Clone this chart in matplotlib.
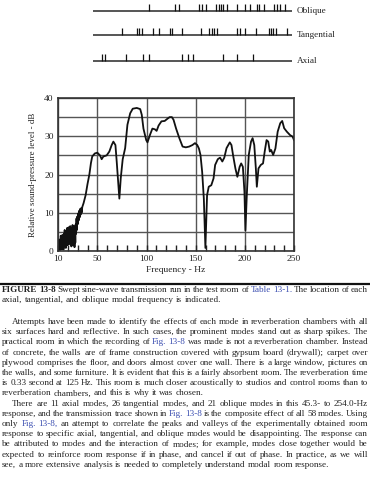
import matplotlib
matplotlib.use('Agg')
import matplotlib.pyplot as plt
from matplotlib.lines import Line2D
from matplotlib.ticker import MultipleLocator

# ---- data ----
freq_hz = [10, 10.4, 10.8, 11.2, 11.6, 12, 12.4, 12.8, 13.2, 13.6, 14, 14.4, 14.8, 15.2,
           15.6, 16, 16.4, 16.8, 17.2, 17.6, 18, 18.4, 18.8, 19.2, 19.6, 20, 20.4, 20.8,
           21.2, 21.6, 22, 22.4, 22.8, 23.2, 23.6, 24, 24.4, 24.8, 25.2, 25.6, 26, 26.4,
           26.8, 27.2, 27.6, 28, 28.4, 28.8, 29.2, 29.6, 30, 30.5, 31, 31.5, 32, 32.5,
           33, 33.5, 34, 34.7, 36, 38.1, 40, 41.9,
           43.5, 44.8, 47.4, 50, 52.7, 54.4, 56.1, 59.5, 62.2, 64.6, 66.3, 68.4, 69.7,
           71.4, 72.4, 73.8, 75.8, 78.3, 80.6, 83.4, 86, 90.1, 93.6, 95.2, 96.9, 99.7,
           101, 103.6, 106, 108.6, 110.3, 112.3, 115.2, 118.5, 120.9, 123.5, 125.8,
           127.5, 130.1, 133.4, 136.7, 140, 143.4, 146.7, 149.3, 151.6, 153.3, 154.9,
           156.6, 158.3, 159.9, 161.6, 163.3, 165.9, 168.2, 169.8, 172.5, 174.8, 177.1,
           179.1, 181.4, 184.7, 186.4, 188, 190.4, 192.4, 194.7, 196.3, 198, 199.6,
           200.6, 202, 204, 206.3, 207.9, 209.6, 211.2, 212.2, 213.9, 216.2, 218.5,
           220.2, 222.1, 223.8, 225.4, 226.8, 228.8, 231.1, 233.4, 236, 238, 240,
           242.7, 246, 248.6, 250]
level_db = [0.5, 2.5, 0.2, 3, 0.6, 2.2, 0.3, 4, 1, 3.5, 0.5, 4.2, 1.5, 3.8,
            0.4, 4.5, 1.8, 5.5, 1.2, 4.8, 0.8, 5, 2.2, 6, 1.5, 5.5, 2.5, 6.2,
            1.8, 5.8, 2, 6.5, 3, 5.2, 1.2, 6, 2.5, 6.8, 1.5, 5.5, 2, 6.5,
            1, 5.8, 2.2, 7, 4.5, 8.5, 5.5, 9, 7, 9.8, 8, 10.5, 8.8, 11,
            9.5, 11.2, 10, 11.5, 12.5, 14.6, 17.5, 20,
            23, 24.7, 25.5, 25.7, 25, 24, 24.7, 25, 26, 27.7, 28.6, 27.7, 23.4,
            17.2, 13.7, 19, 24, 26.9, 33, 36, 37.2, 37.4, 37.1, 35.6, 32, 29,
            28.4, 30.4, 32, 31.8, 31.4, 32.8, 33.9, 34, 34.5, 35, 35,
            34.3, 32, 29.5, 27.3, 27.1, 27.3, 27.7, 28.2, 27.7, 26.8, 25.1,
            20.7, 13.7, 0.8, 14.6, 16.8, 17.2, 19, 22.5, 24, 24.4, 23.4,
            24.4, 26.9, 28.4, 27.7, 25.1, 21.6, 19.4, 22, 22.9, 22, 15.5,
            5.4, 14.6, 25.1, 28.6, 29.5, 27.7, 21.6, 16.8, 21.6, 22.5, 22.9,
            26, 29, 28.6, 26, 26.4, 25.1, 26.8, 31.2, 33.4, 34, 32.1,
            31.2, 30.3, 29.9, 29]

axial_hz = [45.3, 48.7, 72.1, 90.9, 98.3, 135.6, 141.5, 147.4, 181.0, 197.7, 215.4]
tangential_hz = [68.1, 84.1, 87.1, 90.1, 103.1, 109.1, 121.7, 124.3, 135.3, 156.4,
                 166.1, 168.8, 171.4, 174.5, 197.3, 200.7, 206.7, 219.3, 233.2,
                 235.5, 238.0, 241.1, 253.8]
oblique_hz = [98.3, 127.4, 131.9, 154.4, 158.4, 162.9, 173.1, 176.5, 179.3, 182.1,
              186.1, 196.8, 206.9, 212.0, 219.9, 222.7, 227.8, 239.1, 242.5, 246.4,
              252.1]

x_ticks = [10, 50, 100, 150, 200, 250]
y_ticks = [0, 10, 20, 30, 40]

caption = [
    "#FIGURE #13-8 Swept sine-wave transmission run in the test room of @Table @13-1. The location of each",
    "axial, tangential, and oblique modal frequency is indicated.",
]
para1 = [
    "Attempts have been made to identify the effects of each mode in reverberation chambers with all",
    "six surfaces hard and reflective. In such cases, the prominent modes stand out as sharp spikes. The",
    "practical room in which the recording of @Fig. @13-8 was made is not a reverberation chamber. Instead",
    "of concrete, the walls are of frame construction covered with gypsum board (drywall); carpet over",
    "plywood comprises the floor, and doors almost cover one wall. There is a large window, pictures on",
    "the walls, and some furniture. It is evident that this is a fairly absorbent room. The reverberation time",
    "is 0.33 second at 125 Hz. This room is much closer acoustically to studios and control rooms than to",
    "reverberation chambers, and this is why it was chosen.",
]
para2 = [
    "There are 11 axial modes, 26 tangential modes, and 21 oblique modes in this 45.3- to 254.0-Hz",
    "response, and the transmission trace shown in @Fig. @13-8 is the composite effect of all 58 modes. Using",
    "only @Fig. @13-8, an attempt to correlate the peaks and valleys of the experimentally obtained room",
    "response to specific axial, tangential, and oblique modes would be disappointing. The response can",
    "be attributed to modes and the interaction of modes; for example, modes close together would be",
    "expected to reinforce room response if in phase, and cancel if out of phase. In practice, as we will",
    "see, a more extensive analysis is needed to completely understand modal room response.",
]

W, H = 370, 480
serif = ['Liberation Serif', 'DejaVu Serif']
ink = '#222222'
link = '#3a4db0'
txt_size = 6.6

fig = plt.figure(figsize=(W / 100, H / 100), dpi=100)

# mode strips
ax0 = fig.add_axes([92.7 / W, 1 - 66 / H, 199 / W, 64 / H])
ax0.set_xlim(34.5, 259.1)
ax0.set_ylim(0, 64)
ax0.axis('off')
for modes, base, name in [(oblique_hz, 55, 'Oblique'), (tangential_hz, 31, 'Tangential'),
                          (axial_hz, 5, 'Axial')]:
    ax0.axhline(base, color='#555555', lw=1.4)
    ax0.vlines(modes, base, base + 7.5, color='#111111', lw=0.9)
    ax0.text(1.025, base, name, transform=ax0.get_yaxis_transform(), va='center',
             ha='left', fontsize=6.6, family=serif, color=ink)

# response curve
ax = fig.add_axes([58 / W, 1 - 251 / H, 236 / W, 153 / H])
ax.plot(freq_hz, level_db, color='#111111', lw=1.3)
ax.set_xlim(10, 250)
ax.set_ylim(0, 40)
ax.set_xticks(x_ticks)
ax.set_yticks(y_ticks)
ax.xaxis.set_minor_locator(MultipleLocator(10))
ax.yaxis.set_minor_locator(MultipleLocator(5))
ax.grid(which='major', axis='x', color='#555555', lw=1)
ax.grid(which='both', axis='y', color='#555555', lw=1)
ax.tick_params(axis='x', which='both', direction='in', length=4, width=1, color='#222222',
               labelsize=6.8, pad=3)
ax.tick_params(axis='y', which='both', length=0, labelsize=6.8, pad=3)
for lab in ax.get_xticklabels() + ax.get_yticklabels():
    lab.set_family(serif)
    lab.set_color(ink)
for s in ax.spines.values():
    s.set_color('#333333')
    s.set_linewidth(1.2)
ax.set_ylabel('Relative sound-pressure level - dB', fontsize=6.4, family=serif, color=ink)
ax.yaxis.set_label_coords(-0.09, 0.5)
ax.set_xlabel('Frequency - Hz', fontsize=6.8, family=serif, color=ink)
ax.xaxis.set_label_coords(0.5, -0.095)

fig.add_artist(Line2D([0, 1], [1 - 283.5 / H] * 2, color='#111111', lw=1.6,
                      transform=fig.transFigure))

renderer = fig.canvas.get_renderer()


def put_line(line, y, x0, x1, justify):
    items = []
    for w in line.split(' '):
        color, weight = ink, 'normal'
        if w.startswith('@'):
            w, color = w[1:], link
        elif w.startswith('#'):
            w, weight = w[1:], 'bold'
        t = fig.text(0, 1 - y / H, w, fontsize=txt_size, family=serif, color=color,
                     weight=weight, va='baseline', ha='left')
        items.append(t)
    widths = [t.get_window_extent(renderer).width for t in items]
    if justify and len(items) > 1:
        gap = (x1 - x0 - sum(widths)) / (len(items) - 1)
    else:
        gap = txt_size * 100 / 72 * 0.25
    x = x0
    for t, wd in zip(items, widths):
        t.set_x(x / W)
        x += wd + gap


y = 292
for i, line in enumerate(caption):
    put_line(line, y, 2, 368, i < len(caption) - 1)
    y += 9.5

y = 324
for para in [para1, para2]:
    for i, line in enumerate(para):
        put_line(line, y, 12 if i == 0 else 2, 368, i < len(para) - 1)
        y += 10.2

fig.savefig('out.png', dpi=100)
